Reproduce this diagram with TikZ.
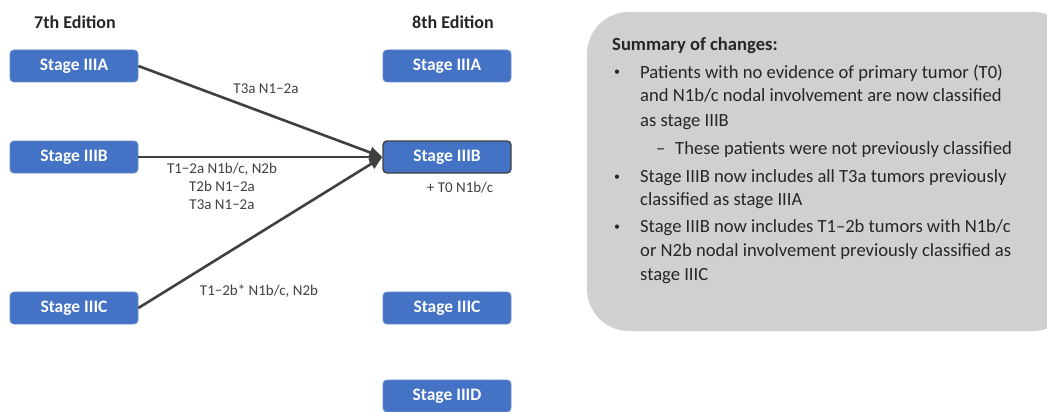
\documentclass[tikz,border=0pt]{standalone}
\usepackage{fontspec}
\setmainfont{Carlito}
\usetikzlibrary{arrows.meta}
\definecolor{stageblue}{HTML}{4472C4}
\definecolor{stageedge}{HTML}{6A8ACB}
\definecolor{linkgray}{HTML}{404040}
\definecolor{panelgray}{HTML}{D0D0D2}
\definecolor{txtgray}{HTML}{262626}
\tikzset{
  stagebox/.style={draw=stageedge, fill=stageblue, rounded corners=4pt, line width=0.8pt,
    minimum width=128pt, minimum height=32pt, text=white, font=\fontsize{17.5}{20}\selectfont\bfseries},
  edhead/.style={font=\fontsize{18}{21}\selectfont\bfseries, text=txtgray},
  link/.style={draw=linkgray, line width=2.6pt, -{Triangle[length=13pt,width=11pt]}},
  linklabel/.style={font=\fontsize{15}{17}\selectfont, text=linkgray},
  sumline/.style={anchor=base west, font=\fontsize{18.6}{21}\selectfont, text=txtgray, inner sep=0pt},
  sumdot/.style={anchor=base west, font=\fontsize{12}{14}\selectfont, text=txtgray, inner sep=0pt}
}
\begin{document}
\begin{tikzpicture}[x=1pt,y=-1pt]
  \useasboundingbox (0,0) rectangle (1047,412);
  % column headings
  \node[edhead] (ed7) at (75,22) {7th Edition};
  \node[edhead] (ed8) at (453,22) {8th Edition};
  % 7th edition stages
  \node[stagebox] (oldA) at (74,66) {Stage IIIA};
  \node[stagebox] (oldB) at (74,157) {Stage IIIB};
  \node[stagebox] (oldC) at (74,308) {Stage IIIC};
  % 8th edition stages
  \node[stagebox] (newA) at (447,66) {Stage IIIA};
  \node[stagebox, draw=linkgray, line width=1.4pt] (newB) at (447,157) {Stage IIIB};
  \node[stagebox] (newC) at (447,308) {Stage IIIC};
  \node[stagebox] (newD) at (447,396) {Stage IIID};
  % links
  \draw[link] (oldA.east) -- (newB.west);
  \draw[link] (oldB.east) -- (newB.west);
  \draw[link] (oldC.east) -- (newB.west);
  \node[linklabel] (labA) at (266,89) {T3a N1−2a};
  \node[linklabel, align=center] (labB) at (222,186) {T1−2a N1b/c, N2b\\[1pt] T2b N1−2a\\[1pt] T3a N1−2a};
  \node[linklabel] (labC) at (259,291) {T1−2b* N1b/c, N2b};
  \node[linklabel] (labT0) at (460,188) {+ T0 N1b/c};
  % summary panel
  \fill[panelgray, rounded corners=42pt] (587,12) rectangle (1075,331);
  \node[sumline, font=\fontsize{18.6}{21}\selectfont\bfseries] (sumhead) at (612,51) {Summary of changes:};
  \node[sumdot] (dotA) at (614,76) {•};
  \node[sumline] (lineA1) at (640,78) {Patients with no evidence of primary tumor (T0)};
  \node[sumline] (lineA2) at (640,102) {and N1b/c nodal involvement are now classified};
  \node[sumline] (lineA3) at (640,126) {as stage IIIB};
  \node[sumline] (dashA) at (656,154) {–};
  \node[sumline] (lineA4) at (675,154) {These patients were not previously classified};
  \node[sumdot] (dotB) at (614,180) {•};
  \node[sumline] (lineB1) at (640,182) {Stage IIIB now includes all T3a tumors previously};
  \node[sumline] (lineB2) at (640,205) {classified as stage IIIA};
  \node[sumdot] (dotC) at (614,230) {•};
  \node[sumline] (lineC1) at (640,232) {Stage IIIB now includes T1–2b tumors with N1b/c};
  \node[sumline] (lineC2) at (640,256) {or N2b nodal involvement previously classified as};
  \node[sumline] (lineC3) at (640,280) {stage IIIC};
\end{tikzpicture}
\end{document}
